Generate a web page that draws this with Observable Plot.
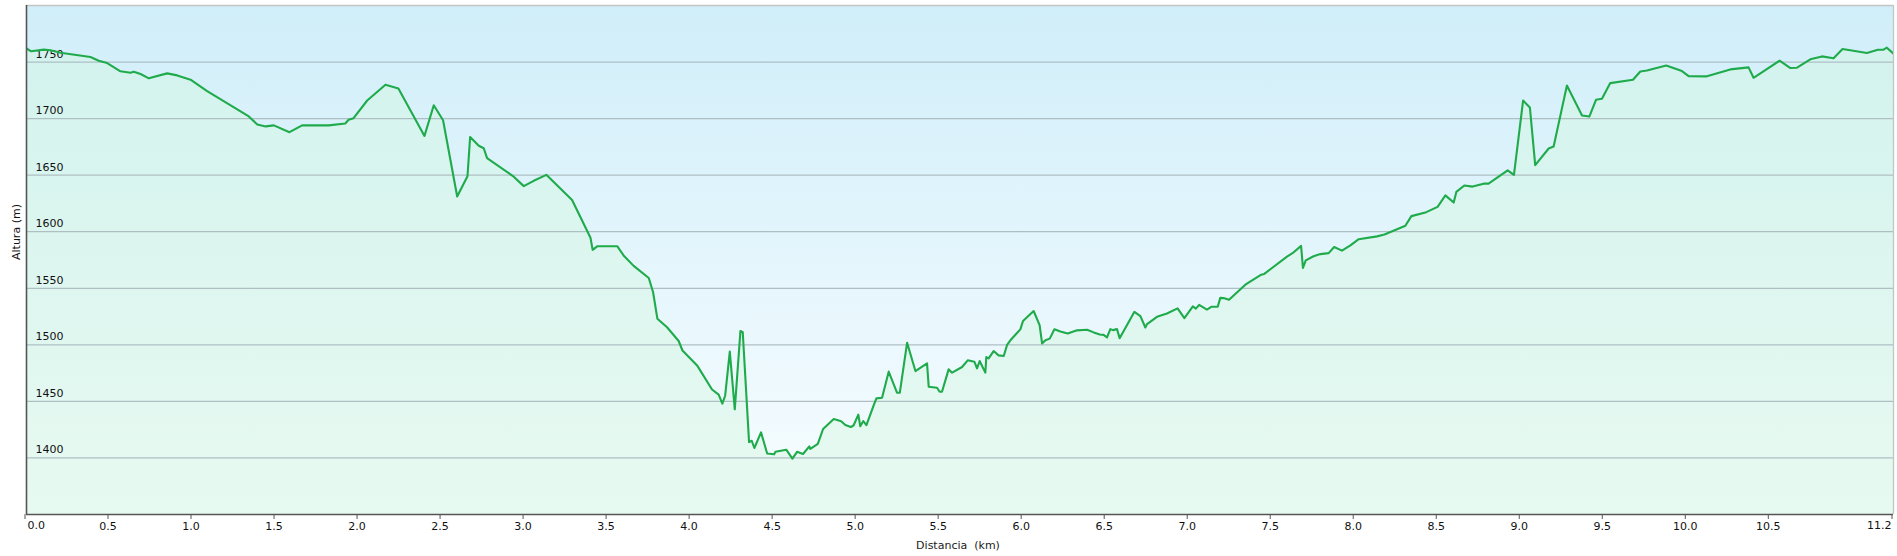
<!DOCTYPE html>
<html>
<head>
<meta charset="utf-8">
<script src="https://cdn.jsdelivr.net/npm/d3@7"></script>
<script src="https://cdn.jsdelivr.net/npm/@observablehq/plot@0.6"></script>
<style>
  html, body { margin: 0; padding: 0; background: #fff; }
  #chart svg { display: block; font-family: "DejaVu Sans", Verdana, sans-serif; }
</style>
</head>
<body>
<div id="chart"></div>
<script>
// Distance (km) along the route
const distKm = [
  0.000, 0.028, 0.104, 0.145, 0.205, 0.385, 0.435, 0.486, 0.566, 0.626,
  0.646, 0.687, 0.737, 0.847, 0.908, 0.988, 1.088, 1.339, 1.390, 1.440,
  1.490, 1.584, 1.660, 1.820, 1.920, 1.940, 1.970, 2.052, 2.162, 2.240,
  2.397, 2.453, 2.509, 2.594, 2.656, 2.672, 2.724, 2.754, 2.774, 2.930,
  2.995, 3.055, 3.131, 3.286, 3.397, 3.410, 3.437, 3.559, 3.599, 3.657,
  3.748, 3.774, 3.800, 3.858, 3.928, 3.951, 4.039, 4.129, 4.169, 4.191,
  4.208, 4.236, 4.266, 4.300, 4.314, 4.352, 4.368, 4.384, 4.424, 4.461,
  4.503, 4.511, 4.576, 4.613, 4.641, 4.677, 4.715, 4.721, 4.766, 4.798,
  4.862, 4.907, 4.932, 4.965, 4.982, 5.010, 5.022, 5.040, 5.059, 5.103,
  5.119, 5.153, 5.193, 5.243, 5.260, 5.304, 5.354, 5.424, 5.434, 5.484,
  5.500, 5.514, 5.554, 5.575, 5.635, 5.669, 5.709, 5.725, 5.741, 5.775,
  5.781, 5.795, 5.825, 5.855, 5.886, 5.906, 5.926, 5.986, 6.002, 6.066,
  6.102, 6.117, 6.137, 6.163, 6.191, 6.227, 6.271, 6.327, 6.388, 6.428,
  6.464, 6.488, 6.508, 6.528, 6.544, 6.568, 6.584, 6.673, 6.709, 6.739,
  6.749, 6.809, 6.869, 6.933, 6.974, 7.025, 7.043, 7.063, 7.110, 7.138,
  7.175, 7.190, 7.210, 7.243, 7.346, 7.437, 7.455, 7.592, 7.625, 7.677,
  7.688, 7.705, 7.752, 7.793, 7.843, 7.876, 7.923, 7.974, 8.024, 8.134,
  8.179, 8.305, 8.341, 8.431, 8.499, 8.546, 8.596, 8.612, 8.660, 8.710,
  8.776, 8.806, 8.921, 8.959, 9.014, 9.055, 9.087, 9.168, 9.198, 9.278,
  9.369, 9.413, 9.453, 9.489, 9.539, 9.676, 9.720, 9.760, 9.876, 9.971,
  10.011, 10.116, 10.262, 10.372, 10.402, 10.559, 10.624, 10.664, 10.744, 10.814,
  10.884, 10.938, 11.085, 11.151, 11.185, 11.205, 11.245
];

// Elevation (m)
const altitudeM = [
  1762.0, 1759.5, 1761.0, 1760.4, 1758.3, 1754.4, 1751.2, 1749.1, 1741.8, 1740.6,
  1741.5, 1739.4, 1735.6, 1740.0, 1738.2, 1734.4, 1724.3, 1701.9, 1694.8, 1693.1,
  1694.0, 1688.0, 1694.0, 1694.0, 1695.7, 1699.0, 1700.4, 1716.0, 1730.0, 1726.6,
  1684.7, 1711.8, 1698.5, 1631.1, 1649.0, 1683.8, 1676.0, 1673.8, 1665.0, 1649.2,
  1640.3, 1645.0, 1650.3, 1628.1, 1594.6, 1584.0, 1587.1, 1587.1, 1578.5, 1569.8,
  1559.1, 1546.5, 1523.0, 1515.5, 1503.4, 1495.0, 1481.8, 1460.5, 1456.0, 1448.0,
  1455.0, 1494.0, 1443.0, 1512.2, 1511.1, 1414.0, 1415.2, 1408.8, 1422.6, 1404.0,
  1403.2, 1405.4, 1407.3, 1399.4, 1405.4, 1403.5, 1410.3, 1408.0, 1412.4, 1425.6,
  1434.4, 1432.5, 1429.2, 1427.3, 1428.9, 1438.3, 1428.0, 1432.6, 1429.0, 1446.7,
  1452.7, 1453.2, 1476.3, 1457.7, 1457.7, 1501.9, 1476.8, 1483.6, 1463.0, 1462.1,
  1458.5, 1458.5, 1478.3, 1475.4, 1480.4, 1486.3, 1485.1, 1479.2, 1485.7, 1475.4,
  1489.2, 1488.0, 1494.5, 1490.7, 1490.1, 1499.9, 1504.0, 1513.7, 1521.1, 1529.9,
  1517.5, 1501.3, 1504.0, 1505.5, 1513.7, 1511.7, 1510.0, 1512.8, 1513.4, 1511.0,
  1509.2, 1508.8, 1506.5, 1513.9, 1513.0, 1513.9, 1505.9, 1529.2, 1525.4, 1515.3,
  1518.3, 1524.8, 1527.7, 1532.2, 1523.6, 1534.0, 1532.0, 1535.3, 1531.2, 1533.7,
  1533.7, 1541.5, 1541.3, 1539.8, 1553.7, 1562.0, 1562.7, 1578.0, 1581.0, 1587.5,
  1568.0, 1574.7, 1578.3, 1580.2, 1581.1, 1586.5, 1583.3, 1588.0, 1593.4, 1595.9,
  1597.5, 1605.3, 1613.8, 1617.3, 1622.0, 1632.1, 1625.8, 1635.2, 1640.9, 1639.9,
  1642.5, 1642.5, 1654.2, 1650.2, 1716.0, 1709.8, 1658.8, 1673.6, 1675.4, 1729.2,
  1702.7, 1701.8, 1716.6, 1717.5, 1731.4, 1734.3, 1741.7, 1742.6, 1747.0, 1742.0,
  1737.6, 1737.3, 1743.5, 1745.3, 1736.1, 1751.2, 1744.7, 1745.0, 1752.4, 1755.0,
  1753.3, 1761.5, 1758.0, 1760.9, 1760.9, 1762.7, 1757.4
];

const yTicks = [1400, 1450, 1500, 1550, 1600, 1650, 1700, 1750];
const xTicks = [0, 0.5, 1, 1.5, 2, 2.5, 3, 3.5, 4, 4.5, 5, 5.5, 6, 6.5, 7, 7.5, 8, 8.5, 9, 9.5, 10, 10.5];
const xStartLabel = "0.0";
const xEndLabel = "11.2";
const xLabel = "Distancia  (km)";
const yLabel = "Altura (m)";

const xMax = distKm[distKm.length - 1];
const yMin = 1350, yMax = 1800;

const profile = distKm.map((d, i) => ({d, e: altitudeM[i]}));

const svg = Plot.plot({
  width: 1897,
  height: 556,
  marginLeft: 26,
  marginRight: 4,
  marginTop: 5,
  marginBottom: 42,
  style: {fontFamily: "DejaVu Sans, Verdana, sans-serif", fontSize: "11px", background: "#fff", color: "#111"},
  x: {domain: [0, xMax]},
  y: {domain: [yMin, yMax], axis: null},
  marks: [
    Plot.frame({fill: "url(#bgGrad)", stroke: null}),
    Plot.areaY(profile, {x: "d", y1: () => yMin, y2: "e", fill: "rgb(212,247,225)", fillOpacity: 0.47, curve: "linear", clip: true}),
    Plot.gridY(yTicks, {stroke: "#aebfc4", strokeOpacity: 1, strokeWidth: 1.3}),
    Plot.text(yTicks, {x: () => 0, y: d => d, text: d => String(d), textAnchor: "start", dx: 9, dy: -8, fill: "#111", fontSize: 11}),
    Plot.lineY(profile, {x: "d", y: "e", stroke: "#1fab4b", strokeWidth: 2.1, curve: "linear", clip: true}),
    Plot.ruleY([yMax], {stroke: "#c4c4c4", strokeWidth: 1.3}),
    Plot.ruleX([xMax], {stroke: "#c4c4c4", strokeWidth: 1.3}),
    Plot.ruleX([0], {stroke: "#555", strokeWidth: 1.6}),
    Plot.ruleY([yMin], {stroke: "#555", strokeWidth: 1.6}),
    Plot.axisX([...xTicks, xMax], {
      tickFormat: d => (d === xMax || d === 0) ? "" : d.toFixed(1),
      tickSize: 5,
      tickPadding: 3,
      dx: -1.5,
      stroke: "#555",
      fill: "#111",
      fontSize: 11,
      label: null
    }),
    Plot.text([xStartLabel], {x: () => 0, frameAnchor: "bottom", text: d => d, textAnchor: "start", dx: 1, dy: 14, fill: "#111", fontSize: 11}),
    Plot.text([xEndLabel], {x: () => xMax, frameAnchor: "bottom", text: d => d, textAnchor: "end", dx: -2, dy: 14, fill: "#111", fontSize: 11}),
    Plot.text([xLabel], {frameAnchor: "bottom", text: d => d, dy: 34, dx: -2, fill: "#222", fontSize: 11}),
    Plot.text([yLabel], {frameAnchor: "left", text: d => d, dx: -10, rotate: -90, fill: "#111", fontSize: 11})
  ]
});

const defs = d3.select(svg).insert("defs", ":first-child");
const g = defs.append("linearGradient").attr("id", "bgGrad")
  .attr("x1", 0).attr("y1", 0).attr("x2", 0).attr("y2", 1);
g.append("stop").attr("offset", "0%").attr("stop-color", "#d0eef9");
g.append("stop").attr("offset", "100%").attr("stop-color", "#f8fdff");

document.getElementById("chart").appendChild(svg);
</script>
</body>
</html>
